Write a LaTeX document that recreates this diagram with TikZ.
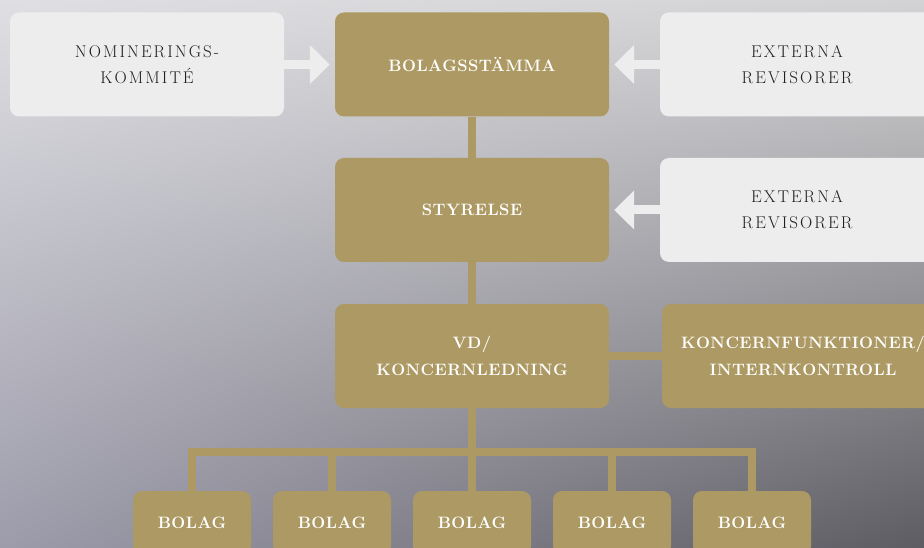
\documentclass[tikz,border=0pt]{standalone}
\usepackage{fontspec}
\newfontfamily\palefont[LetterSpace=12]{Latin Modern Roman}
\newfontfamily\goldfont[LetterSpace=3]{Latin Modern Roman}
\usetikzlibrary{arrows.meta, shadings}

\definecolor{gold}{HTML}{AD9963}
\definecolor{pale}{HTML}{EDEDED}
\definecolor{ink}{HTML}{1F1F1F}
\definecolor{bgA}{HTML}{DFDFE3}
\definecolor{bgB}{HTML}{D3D3D5}
\definecolor{bgC}{HTML}{9D9CAB}
\definecolor{bgD}{HTML}{5D5C62}

\tikzset{
	goldbox/.style={fill=gold, rounded corners=9pt, minimum width=274pt, minimum height=104pt, inner sep=0pt, align=center, text=white, font=\goldfont\fontsize{16.5}{27}\selectfont\bfseries},
	palebox/.style={fill=pale, rounded corners=9pt, minimum width=274pt, minimum height=104pt, inner sep=0pt, align=center, text=ink, font=\palefont\fontsize{17}{26}\selectfont},
	bolagbox/.style={goldbox, minimum width=118pt, minimum height=64pt},
	link/.style={draw=gold, line width=8pt},
	push/.style={draw=pale, line width=9pt, -{Triangle[length=20pt, width=38pt]}, shorten >=5pt},
}

\begin{document}
\begin{tikzpicture}[x=1pt, y=-1pt, line join=miter]
	
	% Nền
	\useasboundingbox (0,0) rectangle (924,548);
	\clip (0,0) rectangle (924,548);
	\shade[upper left=bgA, upper right=bgB, lower left=bgC, lower right=bgD] (0,0) rectangle (924,548);
	
	% Hàng trên
	\node[palebox] (nom) at (147,64.5) {NOMINERINGS-\\KOMMITÉ};
	\node[goldbox] (bst) at (472,64.5) {BOLAGSSTÄMMA};
	\node[palebox] (rev) at (797,64.5) {EXTERNA\\REVISORER};
	\node[goldbox] (sty) at (472,210) {STYRELSE};
	\node[palebox] (rev2) at (797,210) {EXTERNA\\REVISORER};
	\node[goldbox] (vd) at (472,356) {VD/\\KONCERNLEDNING};
	\node[goldbox, minimum width=282pt] (kfn) at (803,356) {KONCERNFUNKTIONER/\\INTERNKONTROLL};
	
	% Bolag
	\foreach \i/\x in {1/192, 2/332, 3/472, 4/612, 5/752}
		\node[bolagbox] (b\i) at (\x,523) {BOLAG};
	
	% Linjer
	\draw[link] (bst) -- (sty);
	\draw[link] (sty) -- (vd);
	\draw[link] (vd) -- (kfn);
	\coordinate (bar) at (472,452);
	\draw[link] (vd.south) -- (bar);
	\draw[link] (b1.north) -- (b1.north |- bar) -- (b5.north |- bar) -- (b5.north);
	\foreach \i in {2,3,4}
		\draw[link] (b\i.north) -- (b\i.north |- bar);
	
	% Pilar
	\draw[push] (nom) -- (bst);
	\draw[push] (rev) -- (bst);
	\draw[push] (rev2) -- (sty);
\end{tikzpicture}
\end{document}
